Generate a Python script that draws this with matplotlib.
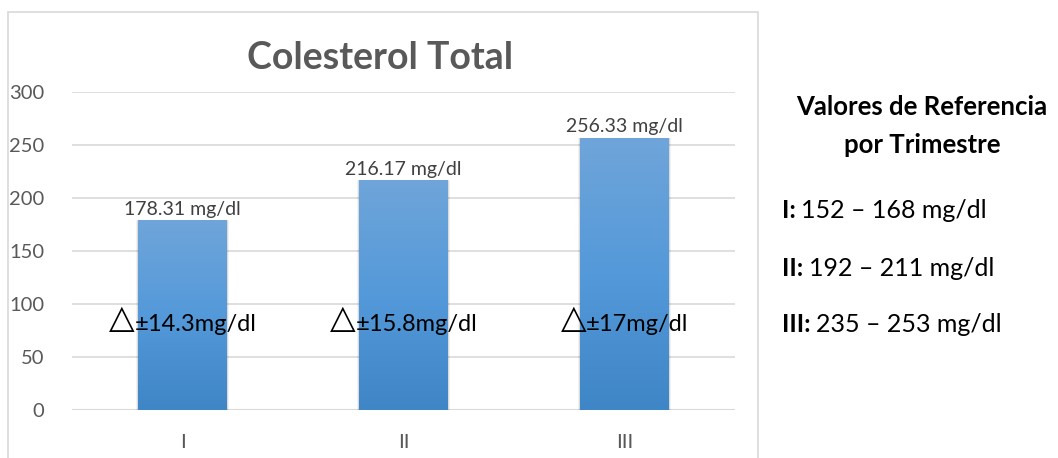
import numpy as np
import matplotlib.pyplot as plt
from matplotlib.colors import LinearSegmentedColormap
from matplotlib.patches import Rectangle

plt.rcParams['font.family'] = ['Lato', 'DejaVu Sans']

# Data
trimestres = ['I', 'II', 'III']
colesterol = [178.31, 216.17, 256.33]
desviacion = [14.3, 15.8, 17]
ref_min = [152, 192, 235]
ref_max = [168, 211, 253]

W, H = 1058, 458
fig = plt.figure(figsize=(W / 100, H / 100), dpi=100)
ax = fig.add_axes([72 / W, 1 - 410 / H, 663 / W, 318 / H])

# outer chart border
fig.patches.append(Rectangle((8 / W, -0.05), 750 / W, 1.05 - 12 / H,
                             transform=fig.transFigure, fill=False,
                             edgecolor='#d9d9d9', linewidth=1.2))

x = np.arange(len(trimestres))
width = 0.40
bars = ax.bar(x, colesterol, width, color='none', zorder=3)

# vertical gradient for each bar, with a soft shadow
cmap = LinearSegmentedColormap.from_list('azul', ['#3f86c6', '#5499d9', '#6fa5da'])
grad = np.linspace(0, 1, 256).reshape(-1, 1)
for b in bars:
    x0, h, w = b.get_x(), b.get_height(), b.get_width()
    for k in range(3):
        d = 0.004 * (k + 1)
        ax.add_patch(Rectangle((x0 - d, -1), w + 2 * d, h + 1 + d * 60,
                               color='#000000', alpha=0.05, zorder=2, linewidth=0))
    ax.imshow(grad, cmap=cmap, aspect='auto', origin='lower',
              extent=(x0, x0 + w, 0, h), zorder=3)

ax.set_xlim(-0.5, 2.5)
ax.set_ylim(0, 300)
ax.set_yticks(range(0, 301, 50))
ax.set_xticks(x)
ax.set_xticklabels(trimestres)
ax.tick_params(axis='both', length=0, labelsize=14.5, labelcolor='#595959')
ax.tick_params(axis='x', pad=17)
ax.tick_params(axis='y', pad=20)
ax.grid(axis='y', color='#d9d9d9', linewidth=1.2, zorder=0)
for s in ax.spines.values():
    s.set_visible(False)
ax.axhline(0, color='#d9d9d9', linewidth=1.5, zorder=1)

fig.canvas.draw()
renderer = fig.canvas.get_renderer()

for i, v in enumerate(colesterol):
    ax.text(i, v + 3, f'{v:.2f} mg/dl', ha='center', va='bottom',
            fontsize=14, color='#404040', zorder=4)
    # delta label: larger triangle followed by the spread text, centred on bar
    tri = ax.text(0, 0, '\u25b3', fontsize=24, color='black', zorder=4)
    rest = ax.text(0, 0, f'\u00b1{desviacion[i]:g}mg/dl', fontsize=17,
                   color='black', zorder=4)
    w_tri = tri.get_window_extent(renderer).width
    w_rest = rest.get_window_extent(renderer).width
    cx, _ = ax.transData.transform((i, 0))
    cy = H - 331
    left = cx - (w_tri + w_rest) / 2
    tri.set_transform(None)
    rest.set_transform(None)
    tri.set_position((left, cy + 3))
    rest.set_position((left + w_tri, cy))

fig.text(380 / W, 1 - 58 / H, 'Colesterol Total', ha='center', va='center',
         fontsize=27, fontweight='bold', color='#595959')

# reference values panel
fig.text(922 / W, 1 - 107 / H, 'Valores de Referencia', ha='center', va='center',
         fontsize=18.5, fontweight='bold', color='black')
fig.text(922 / W, 1 - 145 / H, 'por Trimestre', ha='center', va='center',
         fontsize=18.5, fontweight='bold', color='black')
for i, t in enumerate(trimestres):
    y = 1 - (211 + 57 * i) / H
    lab = fig.text(782 / W, y, f'{t}:', ha='left', va='center',
                   fontsize=18, fontweight='bold', color='black')
    bb = lab.get_window_extent(renderer)
    fig.text(bb.x1 / W + 0.005, y, f'{ref_min[i]} \u2013 {ref_max[i]} mg/dl',
             ha='left', va='center', fontsize=18, color='black')

fig.savefig('out.png', dpi=100)
